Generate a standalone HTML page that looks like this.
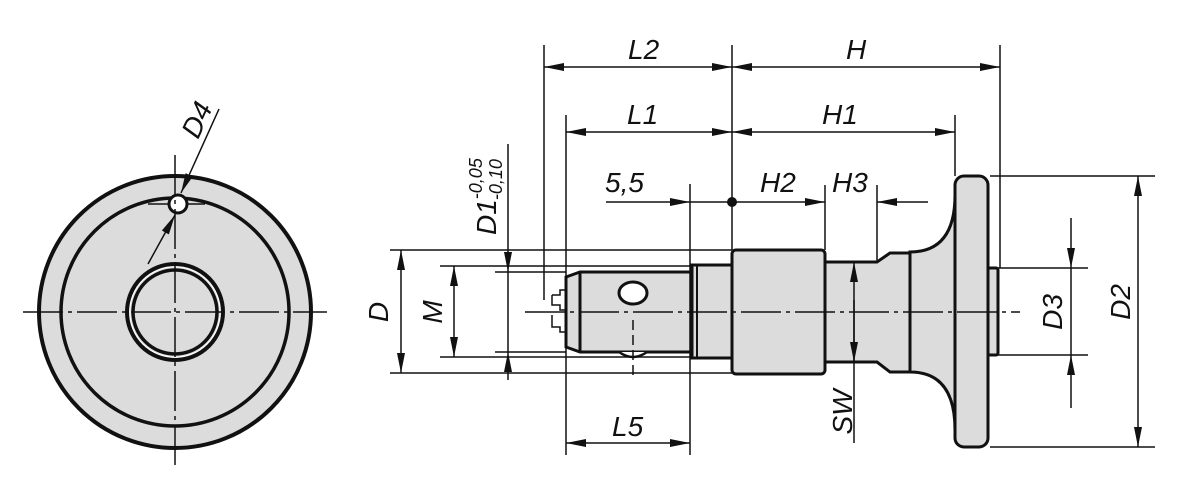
<!DOCTYPE html>
<html><head><style>body{margin:0;background:#fff}svg{display:block}text{font-family:"Liberation Sans",sans-serif;font-style:italic;font-size:28px;fill:#111}</style></head><body>
<svg width="1200" height="492" viewBox="0 0 1200 492" xmlns="http://www.w3.org/2000/svg">
<defs><marker id="a" viewBox="0 0 20 8" refX="20" refY="4" markerWidth="20" markerHeight="8" markerUnits="userSpaceOnUse" orient="auto-start-reverse"><path d="M0,0L20,4L0,8z" fill="#111"/></marker></defs>
<g stroke="#111" fill="none">
<circle cx="175" cy="312" r="136" fill="#dcdcdc" stroke-width="4"/>
<circle cx="175" cy="312" r="114" stroke-width="3.5"/>
<circle cx="175" cy="312" r="48" stroke-width="4"/>
<circle cx="175" cy="312" r="42" fill="#dcdcdc" stroke-width="3.5"/>
<circle cx="175" cy="312" r="45.2" stroke="#fff" stroke-width="1"/>
<line x1="148" y1="204" x2="205" y2="204" stroke-width="1.5"/>
<circle cx="178" cy="204" r="9" fill="#fff" stroke-width="3"/>
<g stroke-width="1.5" stroke-dasharray="40,5,4,5"><line x1="23" y1="312" x2="327" y2="312"/><line x1="175" y1="155" x2="175" y2="465"/></g>
<line x1="219" y1="109" x2="181" y2="193" stroke-width="1.5" marker-end="url(#a)"/>
<line x1="148" y1="264" x2="175" y2="215" stroke-width="1.5" marker-end="url(#a)"/>
<g stroke-width="3" fill="#dcdcdc">
<rect x="692" y="265" width="42" height="93"/>
<path d="M580,272H692V352H580L566,347V277Z"/>
<rect x="732" y="250" width="93" height="124" rx="4"/>
<path d="M825,262H877L890,253H912V372H890L877,362H825Z"/>
<path d="M910,252Q955,252 955,195V430Q955,372 910,372Z"/>
<rect x="988" y="268" width="10" height="87" rx="2"/>
<rect x="955" y="176" width="33" height="271" rx="9"/>
</g>
<line x1="580" y1="272" x2="580" y2="352" stroke-width="3"/>
<line x1="697" y1="265" x2="697" y2="358" stroke-width="2"/>
<line x1="910" y1="252" x2="910" y2="372" stroke-width="2.5"/>
<ellipse cx="633" cy="293" rx="14" ry="11" stroke-width="3" fill="#fff"/>
<path d="M619,352Q633,362 647,352" stroke-width="2.5" fill="#fff"/>
<path d="M552,295h8v-5h6M552,295v10h8v5h6M552,315v12h8v5h6" stroke-width="1.5"/>
<line x1="525" y1="312" x2="1020" y2="312" stroke-width="1.5" stroke-dasharray="40,5,4,5"/>
<line x1="633" y1="320" x2="633" y2="378" stroke-width="1.5" stroke-dasharray="10,5"/>
<g stroke-width="1.5">
<line x1="544" y1="45" x2="544" y2="300"/><line x1="732" y1="45" x2="732" y2="250"/><line x1="1000" y1="45" x2="1000" y2="268"/>
<line x1="566" y1="115" x2="566" y2="455"/><line x1="955" y1="115" x2="955" y2="176"/>
<line x1="690" y1="184" x2="690" y2="455"/><line x1="825" y1="185" x2="825" y2="250"/><line x1="877" y1="185" x2="877" y2="262"/>
<line x1="390" y1="250" x2="732" y2="250"/><line x1="390" y1="373" x2="732" y2="373"/>
<line x1="440" y1="266" x2="692" y2="266"/><line x1="440" y1="357" x2="692" y2="357"/>
<line x1="495" y1="272" x2="566" y2="272"/><line x1="495" y1="352" x2="566" y2="352"/>
<line x1="990" y1="176" x2="1155" y2="176"/><line x1="990" y1="447" x2="1155" y2="447"/>
<line x1="998" y1="268" x2="1088" y2="268"/><line x1="998" y1="355" x2="1088" y2="355"/>
<line x1="544" y1="67" x2="732" y2="67" marker-start="url(#a)" marker-end="url(#a)"/>
<line x1="732" y1="67" x2="1000" y2="67" marker-start="url(#a)" marker-end="url(#a)"/>
<line x1="566" y1="132" x2="732" y2="132" marker-start="url(#a)" marker-end="url(#a)"/>
<line x1="732" y1="132" x2="955" y2="132" marker-start="url(#a)" marker-end="url(#a)"/>
<line x1="606" y1="202" x2="690" y2="202" marker-end="url(#a)"/>
<line x1="690" y1="202" x2="732" y2="202"/>
<line x1="732" y1="202" x2="825" y2="202" marker-end="url(#a)"/>
<line x1="928" y1="202" x2="877" y2="202" marker-end="url(#a)"/>
<line x1="566" y1="443" x2="690" y2="443" marker-start="url(#a)" marker-end="url(#a)"/>
<line x1="401" y1="250" x2="401" y2="373" marker-start="url(#a)" marker-end="url(#a)"/>
<line x1="454" y1="266" x2="454" y2="357" marker-start="url(#a)" marker-end="url(#a)"/>
<line x1="508" y1="144" x2="508" y2="272" marker-end="url(#a)"/>
<line x1="508" y1="380" x2="508" y2="352" marker-end="url(#a)"/>
<line x1="508" y1="272" x2="508" y2="352"/>
<line x1="854" y1="443" x2="854" y2="262" marker-end="url(#a)"/>
<line x1="854" y1="300" x2="854" y2="362" marker-end="url(#a)"/>
<line x1="1071" y1="218" x2="1071" y2="268" marker-end="url(#a)"/>
<line x1="1071" y1="408" x2="1071" y2="355" marker-end="url(#a)"/>
<line x1="1071" y1="268" x2="1071" y2="355"/>
<line x1="1138" y1="176" x2="1138" y2="447" marker-start="url(#a)" marker-end="url(#a)"/>
</g>
</g>
<circle cx="732" cy="202" r="5" fill="#111"/>
<text x="628" y="59">L2</text><text x="846" y="59">H</text>
<text x="627" y="124">L1</text><text x="822" y="124">H1</text>
<text x="605" y="192">5,5</text><text x="760" y="192">H2</text><text x="832" y="192">H3</text>
<text x="612" y="436">L5</text>
<text transform="translate(388,312) rotate(-90)" text-anchor="middle">D</text>
<text transform="translate(442,312) rotate(-90)" text-anchor="middle">M</text>
<text transform="translate(1062,312) rotate(-90)" text-anchor="middle">D3</text>
<text transform="translate(1130,302) rotate(-90)" text-anchor="middle">D2</text>
<text transform="translate(852,412) rotate(-90)" text-anchor="middle">SW</text>
<text transform="translate(496,235) rotate(-90)">D1<tspan font-size="18" dy="-14">-0,05</tspan><tspan font-size="18" dx="-42" dy="20">-0,10</tspan></text>
<text transform="translate(198,140) rotate(-65)">D4</text>
</svg>
</body></html>
